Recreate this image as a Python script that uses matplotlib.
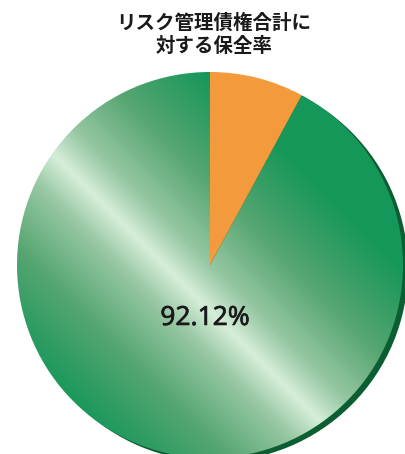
import numpy as np
import matplotlib
matplotlib.use("Agg")
import matplotlib.pyplot as plt
import matplotlib.patheffects as pe
from matplotlib.colors import LinearSegmentedColormap
from matplotlib.patches import Circle

# data
labels = ["保全率", "未保全"]
values = [92.12, 7.88]
title_text = "リスク管理債権合計に\n対する保全率"
value_label = "92.12%"

W, H = 405, 454
fig = plt.figure(figsize=(W / 100, H / 100), dpi=100)
ax = fig.add_axes([0, 0, 1, 1])

cx, cy, r = 210, H - 265, 193

# shadow
ax.add_patch(Circle((cx + 5, cy - 3.5), r, facecolor="#0b5e31", edgecolor="none", zorder=1))

wedges, _ = ax.pie(values, center=(cx, cy), radius=r, startangle=90,
                   counterclock=True, colors=["none", "#f39b3c"],
                   wedgeprops=dict(linewidth=0, edgecolor="none"))
for w in wedges:
    w.set_zorder(3)
wedges[0].set_facecolor("none")

# gradient fill for green wedge
n = 500
xs = np.linspace(cx - r, cx + r, n)
ys = np.linspace(cy - r, cy + r, n)
X, Y = np.meshgrid(xs, ys)
s = ((X - cx) / r + (Y - cy) / r + 0.24) / np.sqrt(2)
cmap = LinearSegmentedColormap.from_list(
    "g",
    [(0.0, "#15985a"), (0.14, "#16975a"), (0.3, "#55a570"), (0.43, "#97c7a3"),
     (0.5, "#d6eed9"), (0.57, "#97c7a3"), (0.7, "#55a570"), (0.86, "#16975a"), (1.0, "#15985a")])
im = ax.imshow((s + 1.2) / 2.4, extent=(cx - r, cx + r, cy - r, cy + r), origin="lower",
               cmap=cmap, vmin=0, vmax=1, zorder=2, interpolation="bilinear")
im.set_clip_path(wedges[0])

ax.text(cx - 5, H - 318, value_label, ha="center", va="center", fontsize=19,
        family=["Noto Sans", "DejaVu Sans"], color="#1a1a1a", zorder=5,
        path_effects=[pe.withStroke(linewidth=0.4, foreground="#1a1a1a")])

ax.text(cx + 4, H - 35, title_text, ha="center", va="center", fontsize=14, fontweight="bold",
        family=["Noto Sans CJK JP", "DejaVu Sans"], color="#1a1a1a", linespacing=1.3, zorder=5)

ax.set_xlim(0, W)
ax.set_ylim(0, H)
ax.set_aspect("equal")
ax.axis("off")

fig.savefig("out.png", dpi=100)
